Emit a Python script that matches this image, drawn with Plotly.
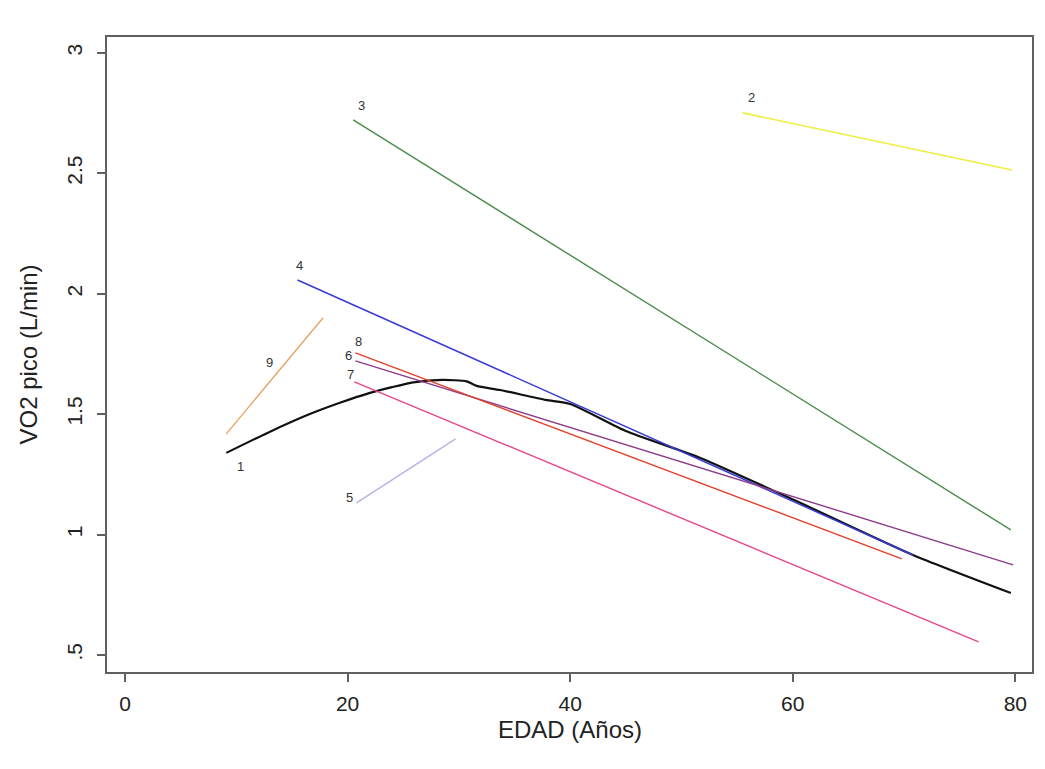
import plotly.graph_objects as go

# Series data (EDAD in years, VO2 pico in L/min)
s1_x = [9.1, 12.8, 16.6, 19.5, 21.8, 24.0, 25.9, 28.5, 30.7, 31.6, 33.7, 37.8, 40.0, 45.0, 51.7, 60.7, 70.8, 79.6]
s1_y = [1.339, 1.422, 1.500, 1.550, 1.585, 1.612, 1.632, 1.642, 1.636, 1.617, 1.600, 1.559, 1.542, 1.430, 1.318, 1.131, 0.915, 0.757]
s2_x = [55.5, 79.7]
s2_y = [2.751, 2.514]
s3_x = [20.5, 79.6]
s3_y = [2.722, 1.019]
s4_x = [15.5, 70.8]
s4_y = [2.057, 0.915]
s5_x = [20.8, 29.7]
s5_y = [1.131, 1.397]
s6_x = [20.7, 79.8]
s6_y = [1.721, 0.874]
s7_x = [20.6, 76.7]
s7_y = [1.634, 0.554]
s8_x = [20.7, 69.8]
s8_y = [1.754, 0.899]
s9_x = [9.1, 17.8]
s9_y = [1.418, 1.900]

series_names = ["1", "2", "3", "4", "5", "6", "7", "8", "9"]
series_x = [s1_x, s2_x, s3_x, s4_x, s5_x, s6_x, s7_x, s8_x, s9_x]
series_y = [s1_y, s2_y, s3_y, s4_y, s5_y, s6_y, s7_y, s8_y, s9_y]
colors = ["#111111", "#eeee40", "#4a8c4a", "#3a3ad6", "#b4b4e6", "#8c3c8c", "#e8448c", "#e2402c", "#e8a464"]
widths = [2.2, 1.6, 1.4, 1.5, 1.4, 1.4, 1.4, 1.4, 1.4]
# label offsets in pixels relative to the first point of each series (label for 9 near mid-line)
label_dx = [14, 9, 8, 2, -7, -7, -4, 3, 43]
label_dy = [-14, 15, 14, 14, 5, 5, 7, 11, 71]

x_ticks = [0, 20, 40, 60, 80]
y_ticks = [0.5, 1, 1.5, 2, 2.5, 3]
y_ticktext = [".5", "1", "1.5", "2", "2.5", "3"]
x_title = "EDAD (Años)"
y_title = "VO2 pico (L/min)"

font_family = "Liberation Sans, Arial, sans-serif"
fs = 21
fs_title = 24

fig = go.Figure()
for name, xs, ys, c, w in zip(series_names, series_x, series_y, colors, widths):
    fig.add_trace(go.Scatter(x=xs, y=ys, mode="lines", name=name, line_shape="spline",
                             line=dict(color=c, width=w, smoothing=0.6), showlegend=False))

for name, xs, ys, dx, dy in zip(series_names, series_x, series_y, label_dx, label_dy):
    fig.add_annotation(x=xs[0], y=ys[0], text=name, showarrow=False,
                       xshift=dx, yshift=dy,
                       font=dict(family=font_family, size=13, color="#333333"))

# axis titles
fig.add_annotation(xref="paper", yref="paper", x=0.5, y=-0.091, text=x_title,
                   showarrow=False, xanchor="center", yanchor="middle",
                   font=dict(family=font_family, size=fs_title, color="#222222"))
fig.add_annotation(xref="paper", yref="paper", x=-0.0854, y=0.5, text=y_title,
                   showarrow=False, xanchor="center", yanchor="middle", textangle=-90,
                   font=dict(family=font_family, size=fs_title, color="#222222"))

fig.update_layout(
    width=1045, height=769,
    margin=dict(l=107, r=13, t=37, b=97),
    paper_bgcolor="white", plot_bgcolor="white",
    font=dict(family=font_family, size=fs, color="#222222"),
    xaxis=dict(range=[-1.62, 81.5], tickvals=x_ticks, showgrid=False, zeroline=False,
               showline=True, mirror=True, linecolor="#606060", linewidth=2,
               ticks="outside", ticklen=8, tickwidth=1.5, tickcolor="#606060",
               ticklabelstandoff=4,
               tickfont=dict(size=fs, color="#222222")),
    yaxis=dict(range=[0.429, 3.066], tickvals=y_ticks, ticktext=y_ticktext, tickangle=-90,
               showgrid=False, zeroline=False,
               showline=True, mirror=True, linecolor="#606060", linewidth=2,
               ticks="outside", ticklen=8, tickwidth=1.5, tickcolor="#606060",
               ticklabelstandoff=7,
               tickfont=dict(size=fs, color="#222222")),
)

fig.write_html("out.html")
